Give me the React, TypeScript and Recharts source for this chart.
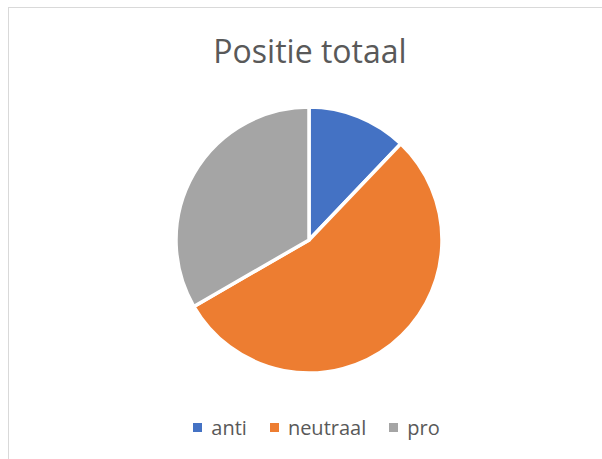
import { Cell, Legend, Pie, PieChart } from "recharts";

const categories = ["anti", "neutraal", "pro"];
const values = [4, 18, 11];
const colors = ["#4472C4", "#ED7D31", "#A5A5A5"];

const data = categories.map((name, i) => ({ name, value: values[i] }));

const FONT = "'Open Sans', 'Noto Sans', sans-serif";

function renderLegend(props: any) {
  const { payload } = props;
  return (
    <div
      style={{
        display: "flex",
        justifyContent: "center",
        alignItems: "center",
        gap: 23,
        fontFamily: FONT,
        fontSize: 20,
        color: "#595959",
        paddingLeft: 31,
      }}
    >
      {payload.map((entry: any) => (
        <div
          key={entry.value}
          style={{ display: "flex", alignItems: "center", gap: 9 }}
        >
          <span
            style={{
              display: "inline-block",
              width: 9,
              height: 9,
              background: entry.color,
            }}
          />
          <span>{entry.value}</span>
        </div>
      ))}
    </div>
  );
}

export default function App() {
  return (
    <div
      style={{
        position: "absolute",
        top: 0,
        left: 0,
        width: 602,
        height: 459,
        background: "#fff",
        overflow: "hidden",
      }}
    >
      {/* cropped chart frame: only left and top edges visible */}
      <div
        style={{
          position: "absolute",
          left: 8,
          top: 7,
          width: 640,
          height: 500,
          borderLeft: "1px solid #D9D9D9",
          borderTop: "1px solid #D9D9D9",
        }}
      />
      <div
        style={{
          position: "absolute",
          top: 29,
          left: 0,
          width: 620,
          textAlign: "center",
          fontFamily: FONT,
          fontSize: 32,
          color: "#595959",
        }}
      >
        Positie totaal
      </div>
      <PieChart
        width={602}
        height={459}
        margin={{ top: 0, right: 0, bottom: 0, left: 0 }}
        style={{ position: "absolute", top: 0, left: 0 }}
      >
        <Pie
          data={data}
          dataKey="value"
          nameKey="name"
          cx={309}
          cy={240}
          outerRadius={133}
          startAngle={90}
          endAngle={-270}
          stroke="#fff"
          strokeWidth={3.5}
          isAnimationActive={false}
        >
          {data.map((d, i) => (
            <Cell key={d.name} fill={colors[i]} />
          ))}
        </Pie>
        <Legend
          content={renderLegend}
          wrapperStyle={{ position: "absolute", top: 414, left: 0, width: 602 }}
        />
      </PieChart>
    </div>
  );
}
